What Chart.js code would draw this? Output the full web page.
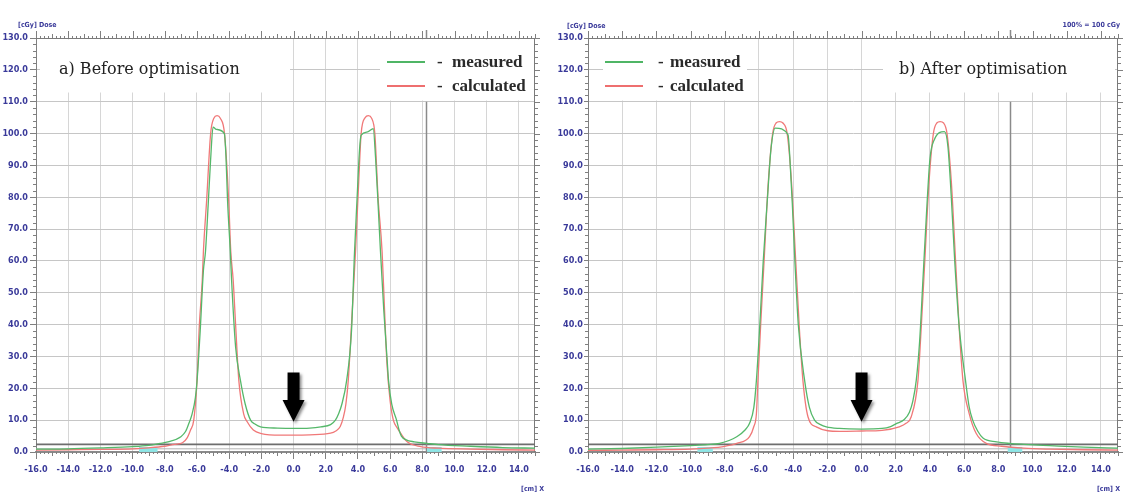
<!DOCTYPE html>
<html>
<head>
<meta charset="utf-8">
<script src="https://cdn.jsdelivr.net/npm/chart.js@4.4.1/dist/chart.umd.min.js"></script>
<style>
  html, body { margin: 0; padding: 0; background: #fff; }
  #wrap { position: relative; width: 1123px; height: 494px; overflow: hidden; }
  #chartA { position: absolute; left: 0; top: 0; }
  #chartB { position: absolute; left: 556px; top: 0; }
</style>
</head>
<body>
<div id="wrap">
  <canvas id="chartA" width="556" height="494"></canvas>
  <canvas id="chartB" width="567" height="494"></canvas>
</div>
<script>
// axis ranges and tick labels
const xMin = -16, xMax = 15, yMin = 0, yMax = 130;
const xTickValues = [-16, -14, -12, -10, -8, -6, -4, -2, 0, 2, 4, 6, 8, 10, 12, 14];
const xTickLabels = ['-16.0', '-14.0', '-12.0', '-10.0', '-8.0', '-6.0', '-4.0', '-2.0', '0.0', '2.0', '4.0', '6.0', '8.0', '10.0', '12.0', '14.0'];
const yTickValues = [0, 10, 20, 30, 40, 50, 60, 70, 80, 90, 100, 110, 120, 130];
const yTickLabels = ['0.0', '10.0', '20.0', '30.0', '40.0', '50.0', '60.0', '70.0', '80.0', '90.0', '100.0', '110.0', '120.0', '130.0'];

// a) before optimisation
const beforeMeasuredX = [-16, -14, -12, -10, -9, -8.3, -7.8, -7.0, -6.7, -6.5, -6.3, -6.1, -6.0, -5.8, -5.6, -5.47, -5.3, -5.15, -5.0, -4.8, -4.3, -4.2, -4.1, -3.93, -3.85, -3.6, -3.3, -3.0, -2.67, -2.4, -2.05, -1, 0, 1, 1.7, 2.3, 2.6, 2.8, 3.0, 3.3, 3.6, 3.79, 3.95, 4.1, 4.2, 4.6, 4.95, 5.1, 5.25, 5.4, 5.6, 5.8, 5.9, 6.1, 6.4, 6.55, 6.7, 7.0, 7.5, 8.3, 9, 11, 13, 15];
const beforeMeasuredY = [0.9, 1.0, 1.3, 1.7, 2.1, 2.7, 3.2, 4.8, 6.5, 9, 12, 17, 22, 38, 57, 63, 78, 92, 102, 101.3, 100, 93, 79, 63, 54, 33, 22.5, 15, 10, 8.8, 7.9, 7.5, 7.4, 7.5, 7.9, 8.6, 10, 12, 15, 22.5, 38, 63, 80, 95, 99.5, 100.5, 101.5, 92, 78, 63, 45, 30, 22.5, 15, 10, 7, 5, 3.8, 3.2, 2.7, 2.3, 1.8, 1.4, 1.2];
const beforeCalculatedX = [-16, -14, -12, -10, -9, -8, -7.4, -6.9, -6.6, -6.4, -6.2, -6.0, -5.85, -5.67, -5.6, -5.4, -5.15, -4.95, -4.75, -4.55, -4.29, -4.03, -3.9, -3.75, -3.6, -3.4, -3.1, -2.88, -2.5, -2.0, -0.8, 0, 1, 2.3, 2.6, 2.9, 3.1, 3.25, 3.4, 3.6, 3.85, 4.05, 4.2, 4.45, 4.65, 4.85, 5.05, 5.25, 5.5, 5.65, 5.8, 6.0, 6.2, 6.45, 6.65, 7.06, 7.9, 9, 11, 13, 15];
const beforeCalculatedY = [0.6, 0.7, 0.8, 1.0, 1.3, 1.8, 2.4, 2.9, 4.5, 6.9, 10, 22, 40, 54, 63, 79, 100, 104.8, 105.6, 104.8, 100, 79, 63, 54, 40, 22.5, 12, 9.5, 6.9, 5.8, 5.3, 5.3, 5.4, 5.9, 6.5, 8, 11, 15, 22.5, 40, 63, 85, 100, 105, 105.6, 104.8, 100, 80, 63, 45, 28, 16, 10, 7.5, 5.9, 3.2, 1.7, 1.2, 0.9, 0.7, 0.6];

// b) after optimisation
const afterMeasuredX = [-16, -14, -12, -10, -9, -8.3, -7.3, -6.8, -6.55, -6.3, -6.15, -5.95, -5.75, -5.5, -5.3, -5.05, -4.3, -4.2, -4.05, -3.9, -3.7, -3.33, -3.05, -2.75, -2.4, -2.06, -1.3, 0, 1.2, 1.7, 2.03, 2.5, 2.8, 3.0, 3.2, 3.4, 3.6, 3.8, 4.0, 4.25, 4.85, 5.05, 5.25, 5.45, 5.7, 6.08, 6.3, 6.5, 6.8, 7.1, 7.9, 8.65, 9.5, 11, 13, 15];
const afterMeasuredY = [0.9, 1.1, 1.5, 2.0, 2.3, 2.7, 4.8, 7, 9, 14, 22.5, 40, 60, 80, 95, 101.7, 99.6, 93, 78, 60, 40, 22.5, 14, 10, 8.6, 7.9, 7.4, 7.2, 7.4, 8.0, 8.9, 10.2, 12.5, 16, 22.5, 35, 55, 75, 92, 98, 100.6, 96, 80, 60, 40, 22.5, 14, 10, 6.5, 4.4, 3.2, 2.7, 2.4, 2.0, 1.5, 1.2];
const afterCalculatedX = [-16, -14, -12, -10, -9, -8, -7.3, -6.55, -6.3, -6.15, -6.06, -5.9, -5.7, -5.45, -5.2, -5.0, -4.8, -4.6, -4.35, -4.1, -3.85, -3.65, -3.43, -3.13, -2.65, -1.29, 0, 1.2, 2.2, 2.6, 2.9, 3.3, 3.5, 3.7, 3.95, 4.2, 4.4, 4.6, 4.8, 5.0, 5.25, 5.5, 5.7, 5.93, 6.3, 6.7, 7.3, 8.2, 9.5, 11, 13, 15];
const afterCalculatedY = [0.5, 0.6, 0.7, 0.9, 1.2, 1.8, 2.7, 4.8, 8, 12, 22.5, 40, 60, 85, 100, 103.3, 103.75, 103.3, 100, 85, 60, 40, 22.5, 11, 7.9, 6.5, 6.6, 6.8, 7.9, 9, 11, 22.5, 40, 60, 85, 100, 103.3, 103.75, 103.3, 100, 85, 60, 40, 22.5, 12, 5.9, 2.7, 1.8, 1.2, 0.9, 0.7, 0.6];

// scanner cursor and cyan markers
const beforeCursorX = 8.25;
const afterCursorX = 8.7;
const beforeMarkerX = [[-9.6, -8.45], [8.3, 9.2]];
const afterMarkerX = [[-9.6, -8.7], [8.55, 9.4]];
const markerLevel = 0.8;
const referenceLevel = 2.4;
const arrowTip = 9.5, arrowHeadBase = 16.3, arrowTop = 25;

const blue = '#3a3a9a';
const tickFont = { family: "'Liberation Sans Narrow', 'DejaVu Sans Condensed', sans-serif", size: 9, weight: 'bold' };

const toPoints = (xs, ys) => xs.map((v, i) => ({ x: v, y: ys[i] }));

const decor = {
  id: 'decor',
  beforeDatasetsDraw(chart, args, o) {
    const { ctx, chartArea: a, scales: { x, y } } = chart;
    ctx.save();
    // white boxes behind the title and the legend
    ctx.fillStyle = '#fff';
    o.boxes.forEach(b => ctx.fillRect(b[0], b[1], b[2], b[3]));

    // frame on top and right
    ctx.strokeStyle = '#7a7a7a';
    ctx.lineWidth = 1;
    ctx.beginPath();
    ctx.moveTo(a.left, a.top + 0.5); ctx.lineTo(a.right, a.top + 0.5);
    ctx.moveTo(a.right - 0.5, a.top); ctx.lineTo(a.right - 0.5, a.bottom);
    ctx.stroke();

    // ruler ticks
    ctx.strokeStyle = '#808080';
    ctx.beginPath();
    for (let i = 0; i <= (xMax - xMin) * 4; i++) {
      const v = xMin + i / 4;
      const px = Math.round(x.getPixelForValue(v)) + 0.5;
      const big = v % 2 === 0, mid = v % 1 === 0;
      const len = big ? 7 : (mid ? 4 : 2);
      ctx.moveTo(px, a.top); ctx.lineTo(px, a.top - len);
      if (!big) { ctx.moveTo(px, a.bottom); ctx.lineTo(px, a.bottom + (mid ? 4 : 2)); }
    }
    for (let v = yMin; v <= yMax; v += 2) {
      const py = Math.round(y.getPixelForValue(v)) + 0.5;
      const len = v % 10 === 0 ? 5 : 3;
      ctx.moveTo(a.right, py); ctx.lineTo(a.right + len, py);
      if (v % 10 !== 0) { ctx.moveTo(a.left, py); ctx.lineTo(a.left - 3, py); }
    }
    ctx.stroke();

    // reference band near the baseline
    const pr = y.getPixelForValue(referenceLevel);
    ctx.strokeStyle = '#6e6e6e';
    ctx.lineWidth = 1.6;
    ctx.beginPath(); ctx.moveTo(a.left, pr); ctx.lineTo(a.right, pr); ctx.stroke();
    const p1 = y.getPixelForValue(1.0);
    ctx.strokeStyle = '#b4b4b4';
    ctx.lineWidth = 1;
    ctx.beginPath(); ctx.moveTo(a.left, p1); ctx.lineTo(a.right, p1); ctx.stroke();

    // cursor line
    const cx = Math.round(x.getPixelForValue(o.cursor)) + 0.5;
    ctx.strokeStyle = '#8a8a8a';
    ctx.lineWidth = 1.5;
    ctx.beginPath();
    ctx.moveTo(cx, y.getPixelForValue(0)); ctx.lineTo(cx, y.getPixelForValue(110));
    ctx.moveTo(cx, a.top); ctx.lineTo(cx, a.top - 8);
    ctx.stroke();
    ctx.restore();
  },
  afterDatasetsDraw(chart, args, o) {
    const { ctx, scales: { x, y } } = chart;
    ctx.save();
    // arrow pointing at the centre dose
    const ax = x.getPixelForValue(0);
    const tip = y.getPixelForValue(arrowTip);
    const base = y.getPixelForValue(arrowHeadBase);
    const top = y.getPixelForValue(arrowTop);
    ctx.shadowColor = 'rgba(0,0,0,0.45)';
    ctx.shadowBlur = 3;
    ctx.shadowOffsetX = 2;
    ctx.shadowOffsetY = 2;
    ctx.fillStyle = '#000';
    ctx.beginPath();
    ctx.moveTo(ax - 6, top); ctx.lineTo(ax + 6, top); ctx.lineTo(ax + 6, base);
    ctx.lineTo(ax + 11, base); ctx.lineTo(ax, tip); ctx.lineTo(ax - 11, base);
    ctx.lineTo(ax - 6, base); ctx.closePath();
    ctx.fill();
    ctx.restore();

    ctx.save();
    // title
    ctx.fillStyle = '#222';
    ctx.font = "16px 'DejaVu Serif', serif";
    ctx.textBaseline = 'alphabetic';
    ctx.fillText(o.title, o.titleX, 74);

    // legend
    const L = o.legend;
    [['#4fb565', 'measured', 62], ['#ee6f6f', 'calculated', 86]].forEach(([c, t, ly]) => {
      ctx.strokeStyle = c;
      ctx.lineWidth = 2;
      ctx.beginPath(); ctx.moveTo(L.x0, ly); ctx.lineTo(L.x1, ly); ctx.stroke();
      ctx.fillStyle = '#2a2a2a';
      ctx.font = "bold 17px 'Liberation Serif', serif";
      ctx.fillText('-', L.dash, ly + 5);
      ctx.fillText(t, L.text, ly + 5);
    });

    // axis captions
    ctx.fillStyle = blue;
    ctx.font = "bold 7px 'Liberation Sans Narrow', 'DejaVu Sans Condensed', sans-serif";
    o.captions.forEach(c => {
      ctx.textAlign = c.align || 'left';
      ctx.fillText(c.text, c.x, c.y);
    });
    ctx.restore();
  }
};

function makeChart(id, p) {
  const curve = (pts, color) => ({
    data: pts, showLine: true, borderColor: color, borderWidth: 1.3,
    pointRadius: 0, cubicInterpolationMode: 'monotone', fill: false
  });
  const markers = p.markers.map(m => ({
    data: [{ x: m[0], y: markerLevel }, { x: m[1], y: markerLevel }],
    showLine: true, borderColor: '#8ee6e6', borderWidth: 5, borderCapStyle: 'butt', pointRadius: 0
  }));
  return new Chart(document.getElementById(id), {
    type: 'scatter',
    data: {
      datasets: [
        curve(toPoints(p.mx, p.my), '#55b86a'),
        curve(toPoints(p.cx, p.cy), '#f07878'),
        ...markers
      ]
    },
    plugins: [decor],
    options: {
      responsive: false,
      animation: false,
      layout: { padding: { left: 0, right: p.padRight, top: 38, bottom: 0 } },
      scales: {
        x: {
          type: 'linear', min: xMin, max: xMax,
          afterBuildTicks: s => { s.ticks = xTickValues.map(v => ({ value: v })); },
          afterFit: s => { s.height = 42; },
          ticks: { callback: (v, i) => xTickLabels[i], color: blue, font: tickFont, padding: 5, maxRotation: 0, autoSkip: false },
          grid: { color: '#d6d6d6', tickColor: '#808080', tickLength: 7, lineWidth: 1 },
          border: { color: '#8a8a8a', width: 2 }
        },
        y: {
          type: 'linear', min: yMin, max: yMax,
          afterBuildTicks: s => { s.ticks = yTickValues.map(v => ({ value: v })); },
          afterFit: s => { s.width = p.yWidth; },
          ticks: { callback: (v, i) => yTickLabels[i], color: blue, font: tickFont, padding: p.yPad, autoSkip: false },
          grid: { color: '#c6c6c6', tickColor: '#808080', tickLength: p.yTick, lineWidth: 1 },
          border: { color: '#808080', width: 1 }
        }
      },
      plugins: {
        legend: { display: false },
        tooltip: { enabled: false },
        decor: {
          boxes: p.boxes, cursor: p.cursor, title: p.title, titleX: p.titleX,
          legend: p.legend, captions: p.captions
        }
      }
    }
  });
}

makeChart('chartA', {
  mx: beforeMeasuredX, my: beforeMeasuredY, cx: beforeCalculatedX, cy: beforeCalculatedY,
  markers: beforeMarkerX, cursor: beforeCursorX,
  padRight: 21, yWidth: 36, yTick: 6, yPad: 2,
  boxes: [[40, 39.5, 250, 53], [380, 39.5, 154, 61]],
  title: 'a) Before optimisation', titleX: 59,
  legend: { x0: 387, x1: 425, dash: 437, text: 452 },
  captions: [
    { text: '[cGy] Dose', x: 18, y: 27 },
    { text: '[cm] X', x: 521, y: 491 }
  ]
});

makeChart('chartB', {
  mx: afterMeasuredX, my: afterMeasuredY, cx: afterCalculatedX, cy: afterCalculatedY,
  markers: afterMarkerX, cursor: afterCursorX,
  padRight: 5, yWidth: 32, yTick: 4, yPad: 1,
  boxes: [[47, 39.5, 144, 61], [327, 39.5, 232, 53]],
  title: 'b) After optimisation', titleX: 343,
  legend: { x0: 49, x1: 87, dash: 102, text: 114 },
  captions: [
    { text: '[cGy] Dose', x: 11, y: 28 },
    { text: '100% = 100 cGy', x: 564, y: 27, align: 'right' },
    { text: '[cm] X', x: 564, y: 491, align: 'right' }
  ]
});
</script>
</body>
</html>
